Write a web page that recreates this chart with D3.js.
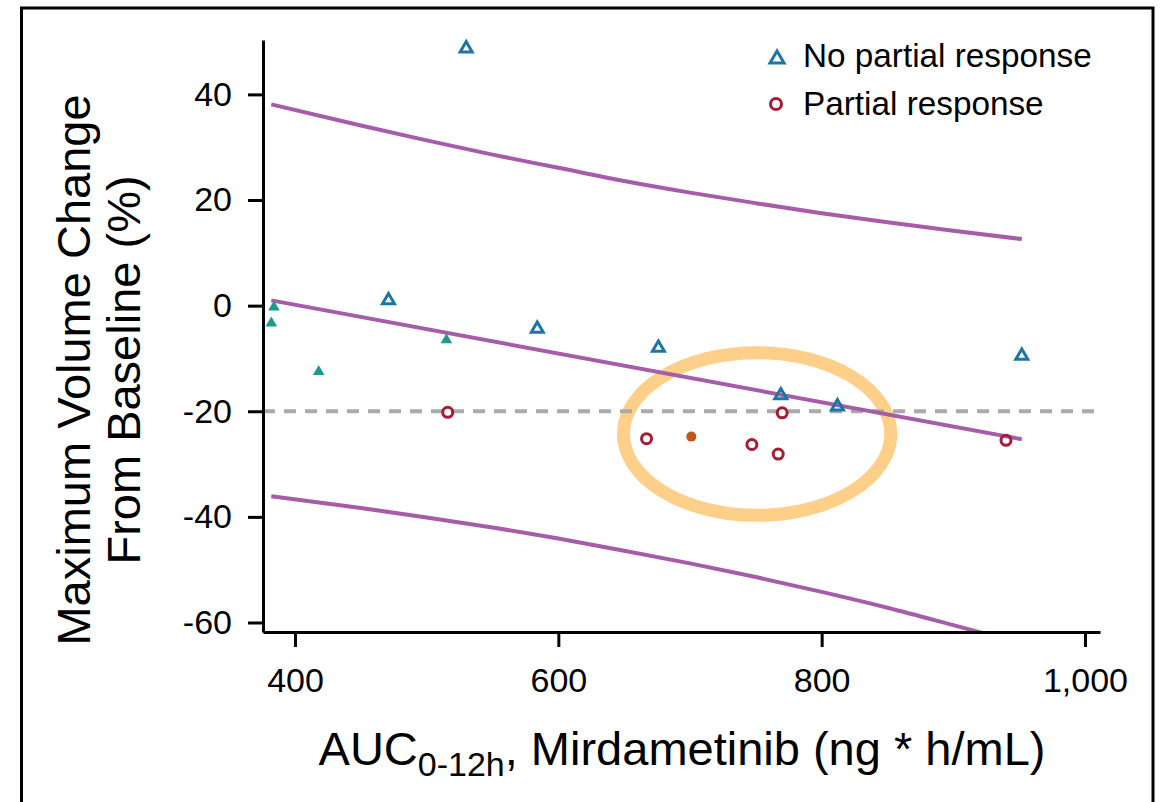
<!DOCTYPE html>
<html>
<head>
<meta charset="utf-8">
<script src="https://cdn.jsdelivr.net/npm/d3@7"></script>
<style>
  body { margin: 0; background: #fff; }
  text { font-family: "Liberation Sans", Arial, sans-serif; fill: #000; }
</style>
</head>
<body>
<script>
// chart values
var noPrX = [530, 471, 584, 676, 769, 812, 952];
var noPrY = [48.7, 1.0, -4.4, -8.0, -17.0, -19.1, -9.5];

var tealX = [382, 384, 418, 515];
var tealY = [-3.3, -0.3, -12.5, -6.5];

var prX = [516, 667, 747, 767, 770, 940];
var prY = [-20.2, -25.2, -26.3, -28.1, -20.3, -25.5];

var dotX = [701];
var dotY = [-24.8];

var fitX = [382, 952];
var fitY = [1.0, -25.3];

var bandX     = [382, 450, 500, 550, 600, 650, 700, 750, 800, 850, 900, 952];
var bandUpper = [38.1, 34.1, 31.3, 28.6, 26.1, 23.6, 21.4, 19.4, 17.5, 15.8, 14.2, 12.6];
var bandLower = [-36.1, -38.3, -40.1, -42.0, -44.1, -46.4, -48.8, -51.4, -54.2, -57.2, -60.5, -64.0];

var threshold = -20;

// highlight ellipse (centre and half widths in data units)
var ringCx = 751, ringCy = -24.3, ringRx = 101.5, ringRy = 15.4;

var xTicks = [400, 600, 800, 1000];
var yTicks = [40, 20, 0, -20, -40, -60];

var legendLabels = ["No partial response", "Partial response"];

var width = 1167, height = 802;

var svg = d3.select("body").append("svg")
  .attr("width", width)
  .attr("height", height);

// outer frame
svg.append("rect")
  .attr("x", 21.5).attr("y", 8)
  .attr("width", 1131.5).attr("height", 820)
  .attr("fill", "none")
  .attr("stroke", "#000")
  .attr("stroke-width", 3);

var xScale = d3.scaleLinear().domain([375.7, 1011.4]).range([263, 1100]);
var yScale = d3.scaleLinear().domain([-61.8, 50.3]).range([632, 40]);

svg.append("clipPath").attr("id", "plot")
  .append("rect")
  .attr("x", 263).attr("y", 40)
  .attr("width", 837).attr("height", 592);

// ellipse annotation
svg.append("ellipse")
  .attr("cx", xScale(ringCx))
  .attr("cy", yScale(ringCy))
  .attr("rx", xScale(ringCx + ringRx) - xScale(ringCx))
  .attr("ry", yScale(ringCy - ringRy) - yScale(ringCy))
  .attr("fill", "none")
  .attr("stroke", "#fdcf88")
  .attr("stroke-width", 13);

// -20% threshold
svg.append("line")
  .attr("x1", xScale.range()[0]).attr("x2", xScale.range()[1])
  .attr("y1", yScale(threshold)).attr("y2", yScale(threshold))
  .attr("stroke", "#aaaaaa")
  .attr("stroke-width", 4)
  .attr("stroke-dasharray", "12,9");

var lineGen = d3.line()
  .x(function(d) { return xScale(d[0]); })
  .y(function(d) { return yScale(d[1]); })
  .curve(d3.curveMonotoneX);

var lines = svg.append("g").attr("clip-path", "url(#plot)");
[d3.zip(bandX, bandUpper), d3.zip(fitX, fitY), d3.zip(bandX, bandLower)].forEach(function(pts) {
  lines.append("path")
    .attr("d", lineGen(pts))
    .attr("fill", "none")
    .attr("stroke", "#a65ca9")
    .attr("stroke-width", 4);
});

// axes
var yAxis = d3.axisLeft(yScale)
  .tickValues(yTicks)
  .tickFormat(function(d) { return String(d); })
  .tickSize(15).tickSizeOuter(0).tickPadding(16);

var xAxis = d3.axisBottom(xScale)
  .tickValues(xTicks)
  .tickFormat(d3.format(","))
  .tickSize(15).tickSizeOuter(0).tickPadding(21);

[svg.append("g").attr("transform", "translate(" + xScale.range()[0] + ",0)").call(yAxis),
 svg.append("g").attr("transform", "translate(0," + yScale.range()[0] + ")").call(xAxis)]
  .forEach(function(g) {
    g.selectAll("path, line").attr("stroke", "#000").attr("stroke-width", 3);
    g.selectAll("text").style("font-size", "34px").attr("fill", "#000");
  });

// markers
var triOpen = d3.symbol().type(d3.symbolTriangle).size(62);
var triSmall = d3.symbol().type(d3.symbolTriangle).size(58);

svg.append("g").selectAll("path")
  .data(d3.zip(tealX, tealY))
  .enter().append("path")
  .attr("transform", function(d) { return "translate(" + xScale(d[0]) + "," + yScale(d[1]) + ")"; })
  .attr("d", triSmall)
  .attr("fill", "#1a9c8b");

svg.append("g").selectAll("path")
  .data(d3.zip(noPrX, noPrY))
  .enter().append("path")
  .attr("transform", function(d) { return "translate(" + xScale(d[0]) + "," + yScale(d[1]) + ")"; })
  .attr("d", triOpen)
  .attr("fill", "none")
  .attr("stroke", "#1b76a7")
  .attr("stroke-width", 3);

svg.append("g").selectAll("circle")
  .data(d3.zip(prX, prY))
  .enter().append("circle")
  .attr("cx", function(d) { return xScale(d[0]); })
  .attr("cy", function(d) { return yScale(d[1]); })
  .attr("r", 5)
  .attr("fill", "none")
  .attr("stroke", "#a51c34")
  .attr("stroke-width", 3);

svg.append("g").selectAll("circle")
  .data(d3.zip(dotX, dotY))
  .enter().append("circle")
  .attr("cx", function(d) { return xScale(d[0]); })
  .attr("cy", function(d) { return yScale(d[1]); })
  .attr("r", 5)
  .attr("fill", "#c4561c");

// legend
var legend = svg.append("g");
legend.append("path")
  .attr("transform", "translate(777,59)")
  .attr("d", d3.symbol().type(d3.symbolTriangle).size(85))
  .attr("fill", "none").attr("stroke", "#1b76a7").attr("stroke-width", 3);
legend.append("circle")
  .attr("cx", 776).attr("cy", 104).attr("r", 5.5)
  .attr("fill", "none").attr("stroke", "#a51c34").attr("stroke-width", 3);
legend.selectAll("text")
  .data(legendLabels)
  .enter().append("text")
  .attr("x", 803)
  .attr("y", function(d, i) { return 67 + i * 48; })
  .style("font-size", "33.3px")
  .text(function(d) { return d; });

// axis titles
var xTitle = svg.append("text")
  .attr("x", 682).attr("y", 765)
  .attr("text-anchor", "middle")
  .style("font-size", "47px");
xTitle.append("tspan").text("AUC");
xTitle.append("tspan").attr("dy", 11).style("font-size", "34px").text("0-12h");
xTitle.append("tspan").attr("dy", -11).text(", Mirdametinib (ng * h/mL)");

var yTitle = svg.append("text")
  .attr("transform", "translate(90,370) rotate(-90)")
  .attr("text-anchor", "middle")
  .style("font-size", "47px");
yTitle.append("tspan").attr("x", 0).attr("y", 0).text("Maximum Volume Change");
yTitle.append("tspan").attr("x", 0).attr("y", 50).text("From Baseline (%)");
</script>
</body>
</html>
